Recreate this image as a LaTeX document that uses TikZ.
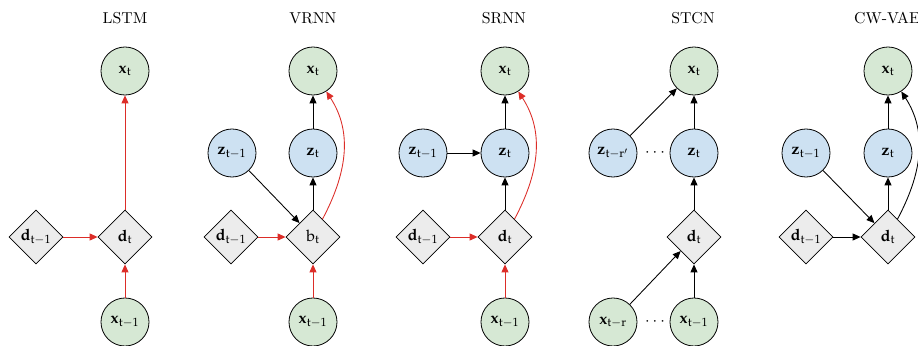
\documentclass[tikz,border=0pt]{standalone}
\usepackage{mathpazo}
\usetikzlibrary{shapes.geometric,arrows.meta}
\definecolor{obsgreen}{RGB}{214,232,212}
\definecolor{latblue}{RGB}{205,225,242}
\definecolor{detgray}{RGB}{236,236,236}
\definecolor{recred}{RGB}{220,45,40}
\newcommand\Xv[1]{\mathbf{x}_{\mathrm{#1}}}
\newcommand\Zv[1]{\mathbf{z}_{\mathrm{#1}}}
\newcommand\Dv[1]{\mathbf{d}_{\mathrm{#1}}}
\begin{document}
\begin{tikzpicture}[x=0.633pt,y=-0.633pt,
  obs/.style={circle,draw,fill=obsgreen,minimum size=30.4pt,inner sep=0pt,line width=0.5pt},
  lat/.style={circle,draw,fill=latblue,minimum size=30.4pt,inner sep=0pt,line width=0.5pt},
  det/.style={diamond,draw,fill=detgray,minimum size=34.2pt,inner sep=0pt,line width=0.5pt},
  heading/.style={font=\normalsize},
  edge/.style={-{Triangle[length=5pt,width=4.4pt]},line width=0.55pt},
  rec/.style={edge,draw=recred}]
\useasboundingbox (0,0) rectangle (918,345);

% LSTM
\node[heading] (t1) at (125,18) {LSTM};
\node[obs] (l-x)  at (125,71)  {$\Xv{t}$};
\node[det] (l-d)  at (125,237) {$\Dv{t}$};
\node[det] (l-dp) at (36,237)  {$\Dv{t-1}$};
\node[obs] (l-xp) at (125,322) {$\Xv{t-1}$};
\draw[rec] (l-d) -- (l-x);
\draw[rec] (l-dp) -- (l-d);
\draw[rec] (l-xp) -- (l-d);

% VRNN
\node[heading] (t2) at (313,18) {VRNN};
\node[obs] (v-x)  at (313,71)  {$\Xv{t}$};
\node[lat] (v-z)  at (313,153) {$\Zv{t}$};
\node[lat] (v-zp) at (232,153) {$\Zv{t-1}$};
\node[det] (v-b)  at (313,237) {$\mathrm{b}_{\mathrm{t}}$};
\node[det] (v-dp) at (231,237) {$\Dv{t-1}$};
\node[obs] (v-xp) at (313,322) {$\Xv{t-1}$};
\draw[edge] (v-z) -- (v-x);
\draw[edge] (v-b) -- (v-z);
\draw[edge] (v-zp) -- (v-b);
\draw[rec] (v-dp) -- (v-b);
\draw[rec] (v-xp) -- (v-b);
\draw[rec] (v-b) to[out=62,in=-57] (v-x);

% SRNN
\node[heading] (t3) at (504,18) {SRNN};
\node[obs] (s-x)  at (505,71)  {$\Xv{t}$};
\node[lat] (s-z)  at (505,153) {$\Zv{t}$};
\node[lat] (s-zp) at (423,153) {$\Zv{t-1}$};
\node[det] (s-d)  at (505,237) {$\Dv{t}$};
\node[det] (s-dp) at (423,237) {$\Dv{t-1}$};
\node[obs] (s-xp) at (505,322) {$\Xv{t-1}$};
\draw[edge] (s-z) -- (s-x);
\draw[edge] (s-d) -- (s-z);
\draw[edge] (s-zp) -- (s-z);
\draw[rec] (s-dp) -- (s-d);
\draw[rec] (s-xp) -- (s-d);
\draw[rec] (s-d) to[out=62,in=-57] (s-x);

% STCN
\node[heading] (t4) at (693,18) {STCN};
\node[obs] (c-x)  at (694,71)  {$\Xv{t}$};
\node[lat] (c-z)  at (694,153) {$\Zv{t}$};
\node[lat] (c-zr) at (613,153) {$\mathbf{z}_{\mathrm{t}-\mathrm{r}'}$};
\node (c-zdots) at (655,153) {$\cdots$};
\node[det] (c-d)  at (694,237) {$\Dv{t}$};
\node[obs] (c-xp) at (694,322) {$\Xv{t-1}$};
\node[obs] (c-xr) at (613,322) {$\Xv{t-r}$};
\node (c-xdots) at (655,322) {$\cdots$};
\draw[edge] (c-z) -- (c-x);
\draw[edge] (c-zr) -- (c-x);
\draw[edge] (c-d) -- (c-z);
\draw[edge] (c-xp) -- (c-d);
\draw[edge] (c-xr) -- (c-d);

% CW-VAE
\node[heading] (t5) at (887,18) {CW-VAE};
\node[obs] (w-x)  at (888,71)  {$\Xv{t}$};
\node[lat] (w-z)  at (888,153) {$\Zv{t}$};
\node[lat] (w-zp) at (806,153) {$\Zv{t-1}$};
\node[det] (w-d)  at (888,237) {$\Dv{t}$};
\node[det] (w-dp) at (806,237) {$\Dv{t-1}$};
\draw[edge] (w-z) -- (w-x);
\draw[edge] (w-d) -- (w-z);
\draw[edge] (w-zp) -- (w-d);
\draw[edge] (w-dp) -- (w-d);
\draw[edge] (w-d) to[out=62,in=-57] (w-x);
\end{tikzpicture}
\end{document}
